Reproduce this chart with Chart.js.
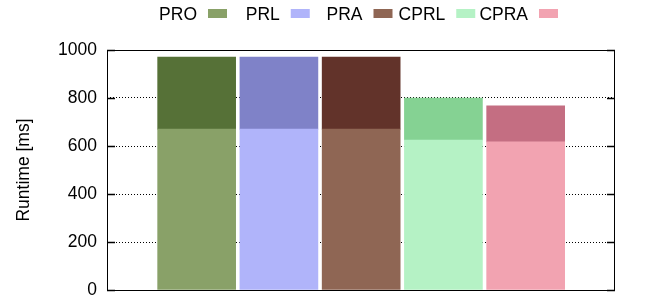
<!DOCTYPE html>
<html>
<head>
<meta charset="utf-8">
<script src="https://cdn.jsdelivr.net/npm/chart.js@4/dist/chart.umd.min.js"></script>
<style>
  html, body { margin: 0; padding: 0; background: #fff; }
  #wrap { width: 654px; height: 296px; position: relative; }
</style>
</head>
<body>
<div id="wrap"><canvas id="runtimeChart" width="654" height="296"></canvas></div>
<script>
// data
const categories = ["PRO", "PRL", "PRA", "CPRL", "CPRA"];
const baseValues = [670, 670, 670, 625, 617];
const topValues = [300, 300, 300, 175, 150];
const yTicks = [0, 200, 400, 600, 800, 1000];

const baseColors = ["#89a168", "#b0b4fa", "#8f6654", "#b5f2c5", "#f2a3b1"];
const topColors = ["#567137", "#7f82c8", "#62332a", "#85d293", "#c46e82"];

const FONT = "Liberation Sans, Arial, sans-serif";

// gnuplot style key: label text, then the sample box
const keyPlugin = {
  id: "gnuKey",
  afterDraw(chart) {
    const ctx = chart.ctx;
    ctx.save();
    ctx.font = "17.5px " + FONT;
    ctx.fillStyle = "#000";
    ctx.textAlign = "right";
    ctx.textBaseline = "alphabetic";
    categories.forEach((name, i) => {
      const sx = 208 + i * 82.75;
      ctx.fillText(name, sx - 11, 20);
      ctx.fillStyle = baseColors[i];
      ctx.fillRect(sx, 9, 19, 9);
      ctx.fillStyle = "#000";
    });
    ctx.restore();
  }
};

// border box and inward ticks
const framePlugin = {
  id: "gnuFrame",
  afterDatasetsDraw(chart) {
    const { ctx, chartArea } = chart;
    const y = chart.scales.y;
    ctx.save();
    ctx.strokeStyle = "#000";
    ctx.lineWidth = 1;
    ctx.strokeRect(Math.round(chartArea.left) + 0.5, Math.round(chartArea.top) + 0.5,
      Math.round(chartArea.right - chartArea.left) - 1, Math.round(chartArea.bottom - chartArea.top));
    ctx.lineWidth = 1.5;
    yTicks.forEach(v => {
      const py = Math.round(y.getPixelForValue(v)) + 0.5;
      ctx.beginPath();
      ctx.moveTo(chartArea.left, py);
      ctx.lineTo(chartArea.left + 8, py);
      ctx.moveTo(chartArea.right, py);
      ctx.lineTo(chartArea.right - 8, py);
      ctx.stroke();
    });
    ctx.restore();
  }
};

const ctx = document.getElementById("runtimeChart").getContext("2d");
new Chart(ctx, {
  type: "bar",
  data: {
    datasets: [
      {
        label: "base",
        data: baseValues.map((v, i) => ({ x: i, y: v })),
        backgroundColor: baseColors,
        borderWidth: 0,
        barThickness: 78
      },
      {
        label: "top",
        data: topValues.map((v, i) => ({ x: i, y: v })),
        backgroundColor: topColors,
        borderWidth: 0,
        barThickness: 78
      }
    ]
  },
  options: {
    responsive: false,
    animation: false,
    layout: { padding: { left: 0, top: 50, right: 39, bottom: 6 } },
    plugins: {
      legend: { display: false },
      tooltip: { enabled: false }
    },
    scales: {
      x: {
        type: "linear",
        stacked: true,
        offset: false,
        min: -1.09,
        max: 5.086,
        display: false
      },
      y: {
        stacked: true,
        min: 0,
        max: 1000,
        afterBuildTicks: (scale) => { scale.ticks = yTicks.map(v => ({ value: v })); },
        afterFit: (scale) => {
          scale.width = 107;
          scale.paddingTop = 0;
          scale.paddingBottom = 0;
        },
        grid: {
          color: "#000",
          lineWidth: 1,
          drawTicks: false
        },
        border: { display: false, dash: [1, 2] },
        ticks: {
          padding: 10,
          color: "#000",
          font: { family: FONT, size: 17.5 },
          callback: (v) => String(v)
        },
        title: {
          display: true,
          text: "Runtime [ms]",
          color: "#000",
          padding: { top: 14, bottom: 0 },
          font: { family: FONT, size: 17.5 }
        }
      }
    }
  },
  plugins: [keyPlugin, framePlugin]
});
</script>
</body>
</html>
